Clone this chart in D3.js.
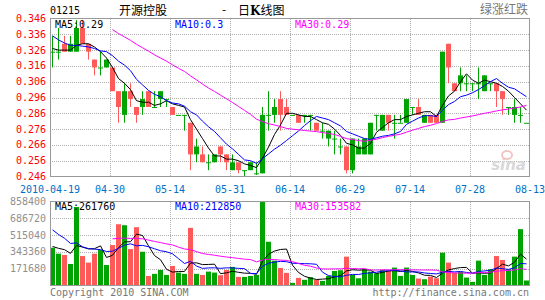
<!DOCTYPE html>
<html>
<head>
<meta charset="utf-8">
<script src="https://cdn.jsdelivr.net/npm/d3@7"></script>
<style>
  body { margin: 0; background: #fff; }
  svg { display: block; font-family: "DejaVu Sans Mono", monospace; }
  .grid line { stroke: #b0b0b0; stroke-dasharray: 1,1; shape-rendering: crispEdges; }
  .frame { fill: none; stroke: #999; stroke-width: 1; shape-rendering: crispEdges; }
</style>
</head>
<body>
<svg id="chart"></svg>
<script>
// ---- data ----
const dateTicks = ['2010-04-19', '04-30', '05-14', '05-31', '06-14', '06-29', '07-14', '07-28', '08-13'];
const priceTicks = [0.346, 0.336, 0.326, 0.316, 0.306, 0.296, 0.286, 0.276, 0.266, 0.256, 0.246];
const volumeTicks = [858400, 686720, 515040, 343360, 171680];

const openP = [0.325,0.325,0.330,0.325,0.325,0.340,0.330,0.320,0.315,0.315,
               0.315,0.300,0.285,0.300,0.290,0.290,0.300,0.290,0.295,0.295,
               0.290,0.285,0.285,0.280,0.260,0.260,0.255,0.255,0.265,0.260,
               0.250,0.255,0.250,0.250,0.248,0.248,0.285,0.285,0.295,0.290,
               0.285,0.285,0.285,0.285,0.280,0.275,0.270,0.270,0.265,0.265,
               0.250,0.260,0.260,0.260,0.285,0.275,0.285,0.280,0.280,0.280,
               0.290,0.290,0.280,0.285,0.285,0.280,0.330,0.305,0.305,0.305,
               0.305,0.305,0.300,0.305,0.305,0.300,0.290,0.285,0.285,0.280];
const highP = [0.335,0.340,0.335,0.335,0.345,0.345,0.330,0.320,0.325,0.320,
               0.315,0.300,0.305,0.305,0.290,0.300,0.300,0.300,0.300,0.295,
               0.290,0.285,0.285,0.280,0.270,0.265,0.260,0.260,0.265,0.260,
               0.260,0.255,0.250,0.255,0.255,0.290,0.300,0.295,0.300,0.295,
               0.285,0.285,0.285,0.285,0.280,0.280,0.275,0.275,0.270,0.265,
               0.270,0.270,0.270,0.280,0.285,0.285,0.285,0.285,0.285,0.295,
               0.290,0.295,0.285,0.285,0.285,0.325,0.330,0.305,0.315,0.310,
               0.305,0.315,0.310,0.305,0.305,0.300,0.290,0.295,0.290,0.280];
const lowP =  [0.315,0.320,0.325,0.325,0.325,0.330,0.320,0.310,0.310,0.315,
               0.300,0.280,0.280,0.290,0.280,0.285,0.290,0.290,0.290,0.290,
               0.285,0.285,0.275,0.250,0.255,0.255,0.250,0.255,0.255,0.250,
               0.250,0.248,0.246,0.250,0.247,0.248,0.275,0.280,0.275,0.285,
               0.285,0.280,0.280,0.275,0.275,0.270,0.265,0.260,0.260,0.248,
               0.248,0.260,0.260,0.260,0.275,0.275,0.275,0.270,0.280,0.280,
               0.285,0.285,0.280,0.280,0.280,0.280,0.305,0.300,0.300,0.300,
               0.300,0.295,0.300,0.300,0.290,0.285,0.285,0.280,0.280,0.280];
const closeP = [0.325,0.325,0.325,0.330,0.340,0.330,0.325,0.315,0.315,0.320,
                0.300,0.290,0.300,0.295,0.285,0.295,0.290,0.290,0.300,0.295,
                0.285,0.285,0.285,0.260,0.265,0.255,0.255,0.260,0.260,0.255,
                0.255,0.250,0.250,0.255,0.248,0.285,0.285,0.290,0.285,0.285,
                0.285,0.280,0.285,0.285,0.275,0.275,0.275,0.270,0.265,0.250,
                0.270,0.265,0.270,0.280,0.285,0.285,0.280,0.280,0.280,0.295,
                0.290,0.285,0.285,0.280,0.280,0.325,0.315,0.300,0.310,0.305,
                0.305,0.305,0.310,0.305,0.300,0.295,0.290,0.290,0.285,0.280];
const volume = [386000,325000,312000,220000,802000,301000,234000,325000,362000,210000,
                413000,626000,616000,372000,596000,345000,98000,119000,159000,108000,
                200000,132000,119000,589000,119000,108000,142000,132000,105000,159000,
                190000,88000,88000,98000,108000,853000,447000,254000,179000,129000,
                27000,78000,58000,85000,58000,47000,98000,149000,156000,295000,
                108000,74000,166000,142000,125000,159000,149000,183000,98000,183000,
                108000,71000,64000,91000,74000,335000,234000,132000,142000,81000,
                37000,254000,108000,166000,301000,261000,166000,295000,576000,51000];

// trading days before 04-19 (off screen, only feed the moving averages)
const priorClose = [0.365,0.365,0.360,0.360,0.360,0.355,0.360,0.360,0.355,0.355,
                    0.350,0.345,0.345,0.340,0.335,0.330,0.325,0.330,0.325];
const priorVolume = [500000,520000,480000,550000,510000,490000,530000,500000,520000,516000,
                     800000,700000,750000,745000,700000,420000,380000,409000,400000];

const priceMaText = ['MA5:0.29', 'MA10:0.3', 'MA30:0.29'];
const volumeMaText = ['MA5:261760', 'MA10:212850', 'MA30:153582'];

const UP = '#00a400', DOWN = '#ff5a5a';
const MA_COLORS = ['#000000', '#0000ff', '#ff00ff'];
const MA_PERIODS = [5, 10, 30];

function movingAvg(prior, values, n) {
  const all = prior.concat(values);
  return values.map((v, i) => {
    const end = prior.length + i + 1;
    if (end < n) return null;
    return d3.mean(all.slice(end - n, end));
  });
}

const svg = d3.select('#chart').attr('width', 545).attr('height', 300);

const left = 50, right = 530;
const x = d3.scaleLinear().domain([0, closeP.length]).range([left, right]);
const yP = d3.scaleLinear().domain([0.246, 0.346]).range([176.5, 18.5]);
const yV = d3.scaleLinear().domain([0, 858400]).range([285.5, 201.5]);
const cx = i => x(i) + 2.5;

const candles = closeP.map((c, i) => ({i, o: openP[i], h: highP[i], l: lowP[i], c, v: volume[i]}));
const colorOf = d => d.c >= d.o ? UP : DOWN;

// ---- grids ----
function drawGrid(yScale, top, bottom, levels) {
  const g = svg.append('g').attr('class', 'grid');
  g.selectAll('.h').data(levels).join('line')
      .attr('x1', left).attr('x2', right)
      .attr('y1', d => Math.round(yScale(d)) + 0.5).attr('y2', d => Math.round(yScale(d)) + 0.5);
  g.selectAll('.v').data(d3.range(1, dateTicks.length - 1)).join('line')
      .attr('x1', d => x(d * 10) + 0.5).attr('x2', d => x(d * 10) + 0.5)
      .attr('y1', top).attr('y2', bottom);
}
drawGrid(yP, 18.5, 176.5, priceTicks.slice(1, -1));
drawGrid(yV, 201.5, 285.5, volumeTicks.slice(1));

// ---- candles ----
svg.append('clipPath').attr('id', 'clipP')
  .append('rect').attr('x', left).attr('y', 18).attr('width', right - left).attr('height', 159);

const cg = svg.append('g').attr('clip-path', 'url(#clipP)');
cg.selectAll('.wick').data(candles).join('line')
    .attr('x1', d => cx(d.i)).attr('x2', d => cx(d.i))
    .attr('y1', d => yP(d.h)).attr('y2', d => yP(d.l))
    .attr('stroke', colorOf).attr('stroke-width', 1);
cg.selectAll('.body').data(candles).join('rect')
    .attr('x', d => x(d.i)).attr('width', 5)
    .attr('y', d => yP(Math.max(d.o, d.c)))
    .attr('height', d => Math.max(1, yP(Math.min(d.o, d.c)) - yP(Math.max(d.o, d.c))))
    .attr('fill', colorOf);

// ---- volume bars ----
svg.append('g').selectAll('rect').data(candles).join('rect')
    .attr('x', d => x(d.i)).attr('width', 5)
    .attr('y', d => yV(d.v)).attr('height', d => yV(0) - yV(d.v))
    .attr('fill', colorOf);

// ---- moving averages ----
MA_PERIODS.forEach((n, k) => {
  const pm = movingAvg(priorClose, closeP, n);
  const vm = movingAvg(priorVolume, volume, n);
  cg.append('path').datum(pm)
      .attr('fill', 'none').attr('stroke', MA_COLORS[k]).attr('stroke-width', 1)
      .attr('d', d3.line().defined(d => d != null).x((d, i) => cx(i)).y(d => yP(d)));
  svg.append('path').datum(vm)
      .attr('fill', 'none').attr('stroke', MA_COLORS[k]).attr('stroke-width', 1)
      .attr('d', d3.line().defined(d => d != null).x((d, i) => cx(i)).y(d => yV(d)));
});

// ---- frames ----
svg.append('rect').attr('class', 'frame').attr('x', left + 0.5).attr('y', 18.5).attr('width', right - left - 1).attr('height', 158);
svg.append('rect').attr('class', 'frame').attr('x', left + 0.5).attr('y', 201.5).attr('width', right - left - 1).attr('height', 84);

// ---- axis labels ----
svg.append('g').selectAll('text').data(priceTicks).join('text')
    .attr('x', 46).attr('y', d => yP(d)).attr('dy', '0.35em')
    .attr('text-anchor', 'end').attr('font-size', 10).attr('fill', '#ff0000')
    .text(d => d.toFixed(3));
svg.append('g').selectAll('text').data(volumeTicks).join('text')
    .attr('x', 46).attr('y', d => yV(d)).attr('dy', '0.35em')
    .attr('text-anchor', 'end').attr('font-size', 10).attr('fill', '#909090')
    .text(d => d);
svg.append('g').selectAll('text').data(dateTicks).join('text')
    .attr('x', (d, k) => x(k * 10)).attr('y', 192.5)
    .attr('text-anchor', 'middle').attr('font-size', 10).attr('fill', '#0070c8')
    .text(d => d);

// ---- legends ----
const legX = [55, 175, 295];
svg.append('g').selectAll('text').data(priceMaText).join('text')
    .attr('x', (d, k) => legX[k]).attr('y', 27.5).attr('font-size', 10)
    .attr('fill', (d, k) => MA_COLORS[k]).text(d => d);
svg.append('g').selectAll('text').data(volumeMaText).join('text')
    .attr('x', (d, k) => legX[k]).attr('y', 209.5).attr('font-size', 10)
    .attr('fill', (d, k) => MA_COLORS[k]).text(d => d);

// ---- title & footer ----
const cjk = '"Noto Sans CJK SC", sans-serif';
svg.append('text').attr('x', 50).attr('y', 14).attr('font-size', 10).text('01215');
svg.append('text').attr('x', 119).attr('y', 14.5).attr('font-size', 12)
    .attr('font-family', cjk).text('开源控股');
svg.append('text').attr('x', 222).attr('y', 14).attr('font-size', 12)
    .attr('font-family', cjk).text('-');
const ttl = svg.append('text').attr('x', 238).attr('y', 14.5).attr('font-size', 12)
    .attr('font-family', cjk);
ttl.append('tspan').text('日');
ttl.append('tspan').attr('font-weight', 'bold').attr('font-family', '"DejaVu Serif", serif').text('K');
ttl.append('tspan').text('线图');
svg.append('text').attr('x', 528).attr('y', 13.5).attr('font-size', 12).attr('text-anchor', 'end')
    .attr('fill', '#777').attr('font-family', cjk).text('绿涨红跌');
svg.append('text').attr('x', 50).attr('y', 296).attr('font-size', 10).attr('fill', '#777')
    .text('Copyright 2010 SINA.COM');
svg.append('text').attr('x', 529).attr('y', 296).attr('font-size', 10).attr('fill', '#777')
    .attr('text-anchor', 'end').text('http://finance.sina.com.cn');

// sina watermark
svg.append('text').attr('x', 526).attr('y', 170).attr('text-anchor', 'end')
    .attr('font-size', 15).attr('font-weight', 'bold').attr('font-style', 'italic')
    .attr('font-family', 'Verdana, "DejaVu Sans", sans-serif').attr('fill', '#d8d8d8').text('sina');
svg.append('ellipse').attr('cx', 507).attr('cy', 155).attr('rx', 5).attr('ry', 4)
    .attr('fill', 'none').attr('stroke', '#f2c4c4').attr('stroke-width', 2);
</script>
</body>
</html>
